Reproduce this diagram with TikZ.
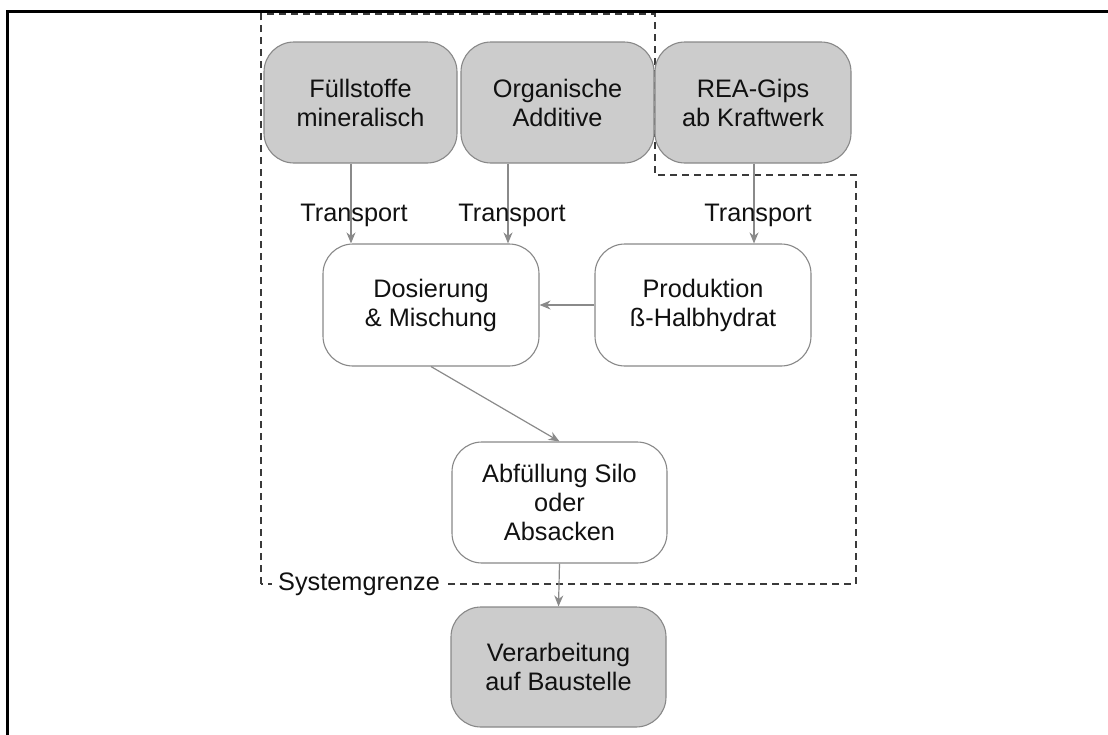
\documentclass[tikz,border=0pt]{standalone}
\usepackage{fontspec}
\setmainfont{Liberation Sans}
\usetikzlibrary{arrows.meta}
\definecolor{boxfill}{HTML}{CCCCCC}
\definecolor{boxline}{HTML}{888888}
\definecolor{arrcol}{HTML}{8A8A8A}
\definecolor{txt}{HTML}{111111}
\definecolor{dashcol}{HTML}{3A3A3A}
\tikzset{
  base/.style={rounded corners=30pt, draw=boxline, line width=1.1pt, inner sep=0pt,
    align=center, text=txt, font=\fontsize{25.3}{29}\selectfont},
  graybox/.style={base, fill=boxfill},
  whitebox/.style={base, fill=white},
  arr/.style={draw=arrcol, line width=1.2pt, -{Stealth[length=11pt,width=9pt,inset=3.5pt]}},
  lbl/.style={text=txt, font=\fontsize{25.3}{29}\selectfont, inner sep=0pt},
  boundary/.style={draw=dashcol, line width=1.1pt, dash pattern=on 7pt off 5pt}
}
\begin{document}
\begin{tikzpicture}[x=1pt,y=-1pt]
\useasboundingbox (0,0) rectangle (1108,734);
% outer frame
\draw[line width=3pt, black] (7,745) -- (7,11) -- (1120,11);
% system boundary
\draw[boundary] (261,584) -- (261,14) -- (655,14) -- (655,175) -- (856,175) -- (856,584) -- cycle;
\node[lbl, fill=white, inner xsep=6pt, inner ysep=3pt, anchor=base west] (sg) at (272,590) {Systemgrenze};
% nodes
\node[graybox, minimum width=193pt, minimum height=121pt] (fuell) at (360.5,102.5) {Füllstoffe\\mineralisch};
\node[graybox, minimum width=193pt, minimum height=121pt] (org) at (557.5,102.5) {Organische\\Additive};
\node[graybox, minimum width=196pt, minimum height=121pt] (rea) at (753,102.5) {REA-Gips\\ab Kraftwerk};
\node[whitebox, minimum width=216pt, minimum height=122pt] (dos) at (431,305) {Dosierung\\\& Mischung};
\node[whitebox, minimum width=216pt, minimum height=122pt] (prod) at (703,305) {Produktion\\ß-Halbhydrat};
\node[whitebox, minimum width=215pt, minimum height=121pt] (abf) at (559.5,502.5) {Abfüllung Silo\\oder\\Absacken};
\node[graybox, minimum width=215pt, minimum height=120pt] (ver) at (558.5,667) {Verarbeitung\\auf Baustelle};
% x positions of arrows
\coordinate (xa) at (351,0);
\coordinate (xb) at (508,0);
\coordinate (xc) at (754,0);
% connectors
\draw[arr] (fuell.south -| xa) -- (dos.north -| xa);
\draw[arr] (org.south -| xb) -- (dos.north -| xb);
\draw[arr] (rea.south -| xc) -- (prod.north -| xc);
\draw[arr] (prod.west) -- (dos.east);
\draw[arr] (dos.south) -- (abf.north);
\draw[arr] (abf.south) -- (ver.north);
% transport labels
\node[lbl, anchor=base] (t1) at (354,221) {Transport};
\node[lbl, anchor=base] (t2) at (512,221) {Transport};
\node[lbl, anchor=base] (t3) at (758,221) {Transport};
\end{tikzpicture}
\end{document}
